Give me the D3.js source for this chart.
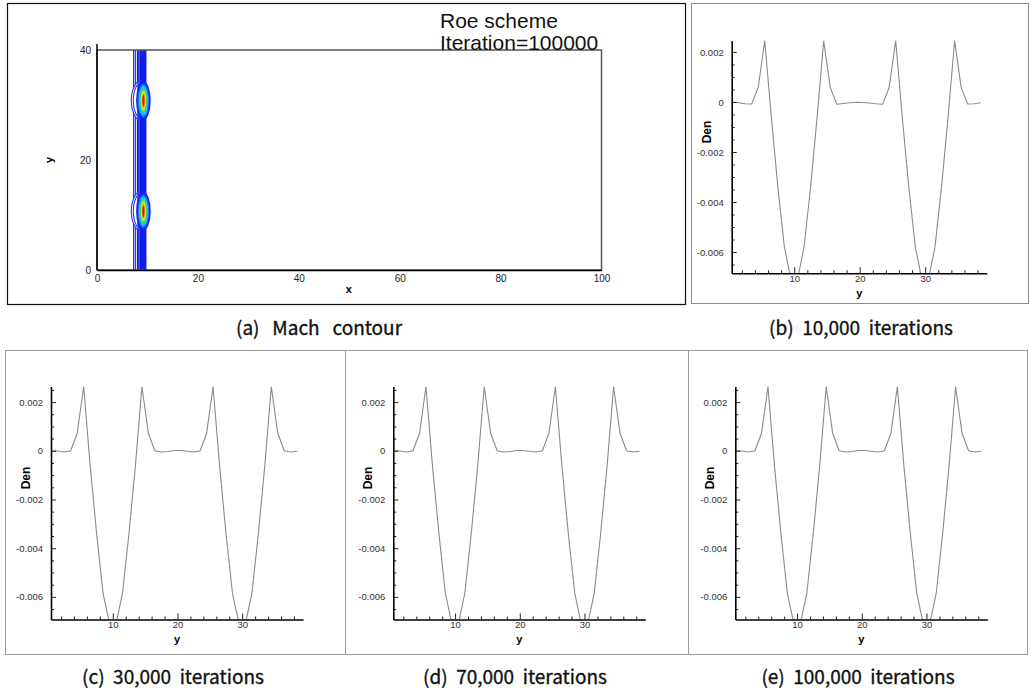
<!DOCTYPE html>
<html>
<head>
<meta charset="utf-8">
<script src="https://cdn.jsdelivr.net/npm/d3@7"></script>
<style>
  html, body { margin: 0; padding: 0; background: #fff; }
  svg { display: block; font-family: "Liberation Sans", Arial, sans-serif; }
  .cap { font-family: "Noto Sans CJK KR", "Liberation Sans", sans-serif; white-space: pre; }
</style>
</head>
<body>
<svg id="fig" width="1031" height="692"></svg>
<script>
// ---- Den(y) profiles sampled at cell centres across the channel ----
const yCells = [0.5, 1.5, 2.5, 3.5, 4.5, 5.5, 6.5, 7.5, 8.5, 9.5,
                10.5, 11.5, 12.5, 13.5, 14.5, 15.5, 16.5, 17.5, 18.5, 19.5,
                20.5, 21.5, 22.5, 23.5, 24.5, 25.5, 26.5, 27.5, 28.5, 29.5,
                30.5, 31.5, 32.5, 33.5, 34.5, 35.5, 36.5, 37.5, 38.5];

const den10k = [0, -0.00003, -0.00007, -0.00008, 0.00058, 0.00245, -0.0006, -0.0034, -0.0058, -0.0071,
                -0.0071, -0.0058, -0.0034, -0.0006, 0.00245, 0.00058, -0.00009, -0.00006, -0.00003, -0.00001,
                -0.00002, -0.00004, -0.00007, -0.00009, 0.00058, 0.00245, -0.0006, -0.0034, -0.0058, -0.0071,
                -0.0071, -0.0058, -0.0034, -0.0006, 0.00245, 0.00058, -0.00008, -0.00007, -0.00003];

const den30k = [0, -0.00001, -0.00005, 0, 0.00072, 0.00263, -0.0006, -0.0034, -0.00586, -0.0071,
                -0.0071, -0.00586, -0.0034, -0.0006, 0.00263, 0.00072, 0, -0.00005, -0.00003, 0.00001,
                0.00001, -0.00002, -0.00005, 0, 0.00072, 0.00263, -0.0006, -0.0034, -0.00586, -0.0071,
                -0.0071, -0.00586, -0.0034, -0.0006, 0.00263, 0.00072, 0, -0.00005, -0.00002];

const den70k = [0, -0.00001, -0.00005, 0, 0.00072, 0.00263, -0.0006, -0.0034, -0.00586, -0.0071,
                -0.0071, -0.00586, -0.0034, -0.0006, 0.00263, 0.00072, 0, -0.00005, -0.00003, 0.00001,
                0.00001, -0.00002, -0.00005, 0, 0.00072, 0.00263, -0.0006, -0.0034, -0.00586, -0.0071,
                -0.0071, -0.00586, -0.0034, -0.0006, 0.00263, 0.00072, 0, -0.00005, -0.00002];

const den100k = [0, -0.00001, -0.00005, 0, 0.00072, 0.00263, -0.0006, -0.0034, -0.00586, -0.0071,
                 -0.0071, -0.00586, -0.0034, -0.0006, 0.00263, 0.00072, 0, -0.00005, -0.00003, 0.00001,
                 0.00001, -0.00002, -0.00005, 0, 0.00072, 0.00263, -0.0006, -0.0034, -0.00586, -0.0071,
                 -0.0071, -0.00586, -0.0034, -0.0006, 0.00263, 0.00072, 0, -0.00005, -0.00002];

const denTicks = [-0.006, -0.004, -0.002, 0, 0.002];
const yTicks = [10, 20, 30];

// ---- Mach contour field (x-y plane) ----
const domainTicksX = [0, 20, 40, 60, 80, 100];
const domainTicksY = [0, 20, 40];
const machBandX = [7.9, 9.8];          // low-speed layer, x extent
const machOutlineX = [7.25, 7.6];      // outer contour lines of the layer
const vortexCentreX = 9.2;
const vortexCentreY = [10.7, 30.8];
const machLevels = [0.05, 0.1, 0.15, 0.2, 0.25, 0.3, 0.35];
const levelHalfWidth = [1.45, 1.15, 0.92, 0.72, 0.52, 0.36, 0.2];
const levelHalfHeight = [3.5, 3.05, 2.65, 2.25, 1.85, 1.45, 1.05];
const arcHalfWidth = [2.4, 2.0];
const arcHalfHeight = [3.9, 3.6];

const captions = ["(a)   Mach   contour", "(b)  10,000  iterations",
                  "(c)  30,000  iterations", "(d)  70,000  iterations", "(e)  100,000  iterations"];

const svg = d3.select("#fig");
const defs = svg.append("defs");

// ---------- panel frames ----------
svg.append("rect").attr("x", 7.5).attr("y", 3.5).attr("width", 678).attr("height", 301)
  .attr("fill", "none").attr("stroke", "#111").attr("stroke-width", 1.2);
svg.append("rect").attr("x", 691.5).attr("y", 3.5).attr("width", 337).attr("height", 300)
  .attr("fill", "none").attr("stroke", "#8c8c8c");
[[5.5, 345.5], [345.5, 688.5], [688.5, 1027.5]].forEach(([a, b]) => {
  svg.append("rect").attr("x", a).attr("y", 350.5).attr("width", b - a).attr("height", 304)
    .attr("fill", "none").attr("stroke", "#9a9a9a");
});

// ---------- (a) Mach contour ----------
(function machPanel() {
  const x = d3.scaleLinear().domain([0, 100]).range([97, 601.5]);
  const y = d3.scaleLinear().domain([0, 40]).range([270, 50]);
  const g = svg.append("g");

  defs.append("clipPath").attr("id", "clipA").append("rect")
    .attr("x", x(0)).attr("y", y(40)).attr("width", x(100) - x(0)).attr("height", y(0) - y(40));
  const c = g.append("g").attr("clip-path", "url(#clipA)");

  const colour = d3.scaleLinear().domain(machLevels)
    .range(["#1020e8", "#2a6cff", "#10c8ff", "#30e060", "#d8f020", "#ff9a10", "#e01010"]);

  // outer contour lines of the layer
  machOutlineX.forEach(v => {
    c.append("line").attr("x1", x(v)).attr("x2", x(v)).attr("y1", y(0)).attr("y2", y(40))
      .attr("stroke", "#2438e8").attr("stroke-width", 1.2);
  });
  // low-speed layer
  c.append("rect").attr("x", x(machBandX[0])).attr("y", y(40))
    .attr("width", x(machBandX[1]) - x(machBandX[0])).attr("height", y(0) - y(40))
    .attr("fill", colour(machLevels[0]));
  c.append("line").attr("x1", x(machBandX[0] + 0.45)).attr("x2", x(machBandX[0] + 0.45))
    .attr("y1", y(0)).attr("y2", y(40)).attr("stroke", "#8fa0ff").attr("stroke-width", 0.8).attr("opacity", 0.7);

  // arcs of the contour lines on the left flank of each vortex
  defs.append("clipPath").attr("id", "clipArc").append("rect")
    .attr("x", x(0)).attr("y", y(40)).attr("width", x(vortexCentreX - 1.2) - x(0)).attr("height", y(0) - y(40));
  const arcs = c.append("g").attr("clip-path", "url(#clipArc)");
  vortexCentreY.forEach(cy => {
    arcHalfWidth.forEach((rw, i) => {
      arcs.append("ellipse").attr("cx", x(vortexCentreX)).attr("cy", y(cy))
        .attr("rx", x(rw) - x(0)).attr("ry", y(0) - y(arcHalfHeight[i]))
        .attr("fill", i === 0 ? "#fff" : "none").attr("stroke", "#2438e8").attr("stroke-width", 1.1);
    });
  });

  // vortex cores: nested Mach levels
  vortexCentreY.forEach(cy => {
    machLevels.forEach((lv, i) => {
      c.append("ellipse").attr("cx", x(vortexCentreX)).attr("cy", y(cy))
        .attr("rx", x(levelHalfWidth[i]) - x(0)).attr("ry", y(0) - y(levelHalfHeight[i]))
        .attr("fill", colour(lv));
    });
  });

  // frame
  g.append("rect").attr("x", x(0)).attr("y", y(40)).attr("width", x(100) - x(0)).attr("height", y(0) - y(40))
    .attr("fill", "none").attr("stroke", "#555").attr("stroke-width", 1.5);

  const ax = g.append("g").attr("transform", `translate(0,${y(0)})`)
    .call(d3.axisBottom(x).tickValues(domainTicksX).tickSize(0).tickPadding(5).tickSizeOuter(0));
  const ay = g.append("g").attr("transform", `translate(${x(0)},0)`)
    .call(d3.axisLeft(y).tickValues(domainTicksY).tickSize(0).tickPadding(6).tickSizeOuter(0));
  [ax, ay].forEach(a => {
    a.select(".domain").attr("stroke", "#000").attr("stroke-width", 1.5);
    a.selectAll("text").attr("font-family", "'Liberation Sans Narrow','Liberation Sans',Arial")
      .attr("font-size", 10).attr("fill", "#222");
  });
  ay.select(".domain").attr("d", `M0,${y(0)}V${y(40) - 6}`);

  g.append("text").attr("x", (x(0) + x(100)) / 2 - 0.5).attr("y", 293).attr("text-anchor", "middle")
    .attr("font-size", 11).attr("font-weight", "bold").text("x");
  g.append("text").attr("transform", `translate(53,${(y(0) + y(40)) / 2}) rotate(-90)`)
    .attr("text-anchor", "middle").attr("font-size", 11).attr("font-weight", "bold").text("y");

  g.append("text").attr("x", 440).attr("y", 28).attr("font-size", 21).attr("fill", "#111").text("Roe scheme");
  g.append("text").attr("x", 440).attr("y", 50).attr("font-size", 21).attr("fill", "#111").text("Iteration=100000");
})();

// ---------- Den(y) panels ----------
function denPanel(id, values, box, yDomain) {
  const x = d3.scaleLinear().domain([0.45, 39.4]).range([box.left, box.right]);
  const y = d3.scaleLinear().domain(yDomain).range([box.bottom, box.top]);
  const g = svg.append("g");

  defs.append("clipPath").attr("id", id).append("rect")
    .attr("x", box.left).attr("y", box.top - 2).attr("width", box.right - box.left)
    .attr("height", box.bottom - box.top + 2);

  const line = d3.line().x((d, i) => x(yCells[i])).y(d => y(d));
  g.append("path").datum(values).attr("clip-path", `url(#${id})`)
    .attr("d", line).attr("fill", "none").attr("stroke", "#8a8a8a").attr("stroke-width", 1.1);

  const minorY = d3.range(-0.0065, 0.00251, 0.0005)
    .filter(v => v >= yDomain[0] && v <= yDomain[1] && !denTicks.some(t => Math.abs(t - v) < 1e-9));
  const minorX = d3.range(2, 39, 2).filter(v => !yTicks.includes(v));

  g.append("g").attr("transform", `translate(${box.left},0)`)
    .call(d3.axisLeft(y).tickValues(minorY).tickSize(-3).tickFormat("").tickSizeOuter(0))
    .call(a => a.select(".domain").remove());
  g.append("g").attr("transform", `translate(0,${box.bottom})`)
    .call(d3.axisBottom(x).tickValues(minorX).tickSize(-3).tickFormat("").tickSizeOuter(0))
    .call(a => a.select(".domain").remove());

  const ay = g.append("g").attr("transform", `translate(${box.left},0)`)
    .call(d3.axisLeft(y).tickValues(denTicks).tickSize(-5).tickPadding(8).tickSizeOuter(0)
      .tickFormat(d => d === 0 ? "0" : d.toFixed(3)));
  const ax = g.append("g").attr("transform", `translate(0,${box.bottom})`)
    .call(d3.axisBottom(x).tickValues(yTicks).tickSize(-6).tickPadding(2).tickSizeOuter(0));

  [ax, ay].forEach(a => {
    a.select(".domain").attr("stroke", "#000").attr("stroke-width", 1.6);
    a.selectAll("text").attr("font-size", 9.5).attr("fill", "#333");
  });
  g.selectAll(".tick line").attr("stroke", "#222");

  g.append("text").attr("x", (box.left + box.right) / 2).attr("y", box.bottom + 23.5)
    .attr("text-anchor", "middle").attr("font-size", 11).attr("font-weight", "bold").text("y");
  g.append("text")
    .attr("transform", `translate(${box.left - 21},${(box.top + box.bottom) / 2 - 25}) rotate(-90)`)
    .attr("text-anchor", "middle").attr("font-size", 12).attr("font-weight", "bold").text("Den");
}

denPanel("clipB", den10k, { left: 731.7, right: 986.7, top: 40.7, bottom: 273.3 }, [-0.00685, 0.00245]);
denPanel("clipC", den30k, { left: 51, right: 303, top: 386.5, bottom: 619.5 }, [-0.00693, 0.00264]);
denPanel("clipD", den70k, { left: 393.3, right: 645.3, top: 386.5, bottom: 619.5 }, [-0.00693, 0.00264]);
denPanel("clipE", den100k, { left: 735.3, right: 987.3, top: 386.5, bottom: 619.5 }, [-0.00693, 0.00264]);

// ---------- captions ----------
const capPos = [[319, 335], [861, 335], [173, 684], [515, 684], [858, 684]];
captions.forEach((t, i) => {
  svg.append("text").attr("class", "cap").attr("x", capPos[i][0]).attr("y", capPos[i][1])
    .attr("text-anchor", "middle").attr("font-size", 19).attr("fill", "#111")
    .attr("stroke", "#111").attr("stroke-width", 0.35).text(t);
});
</script>
</body>
</html>
